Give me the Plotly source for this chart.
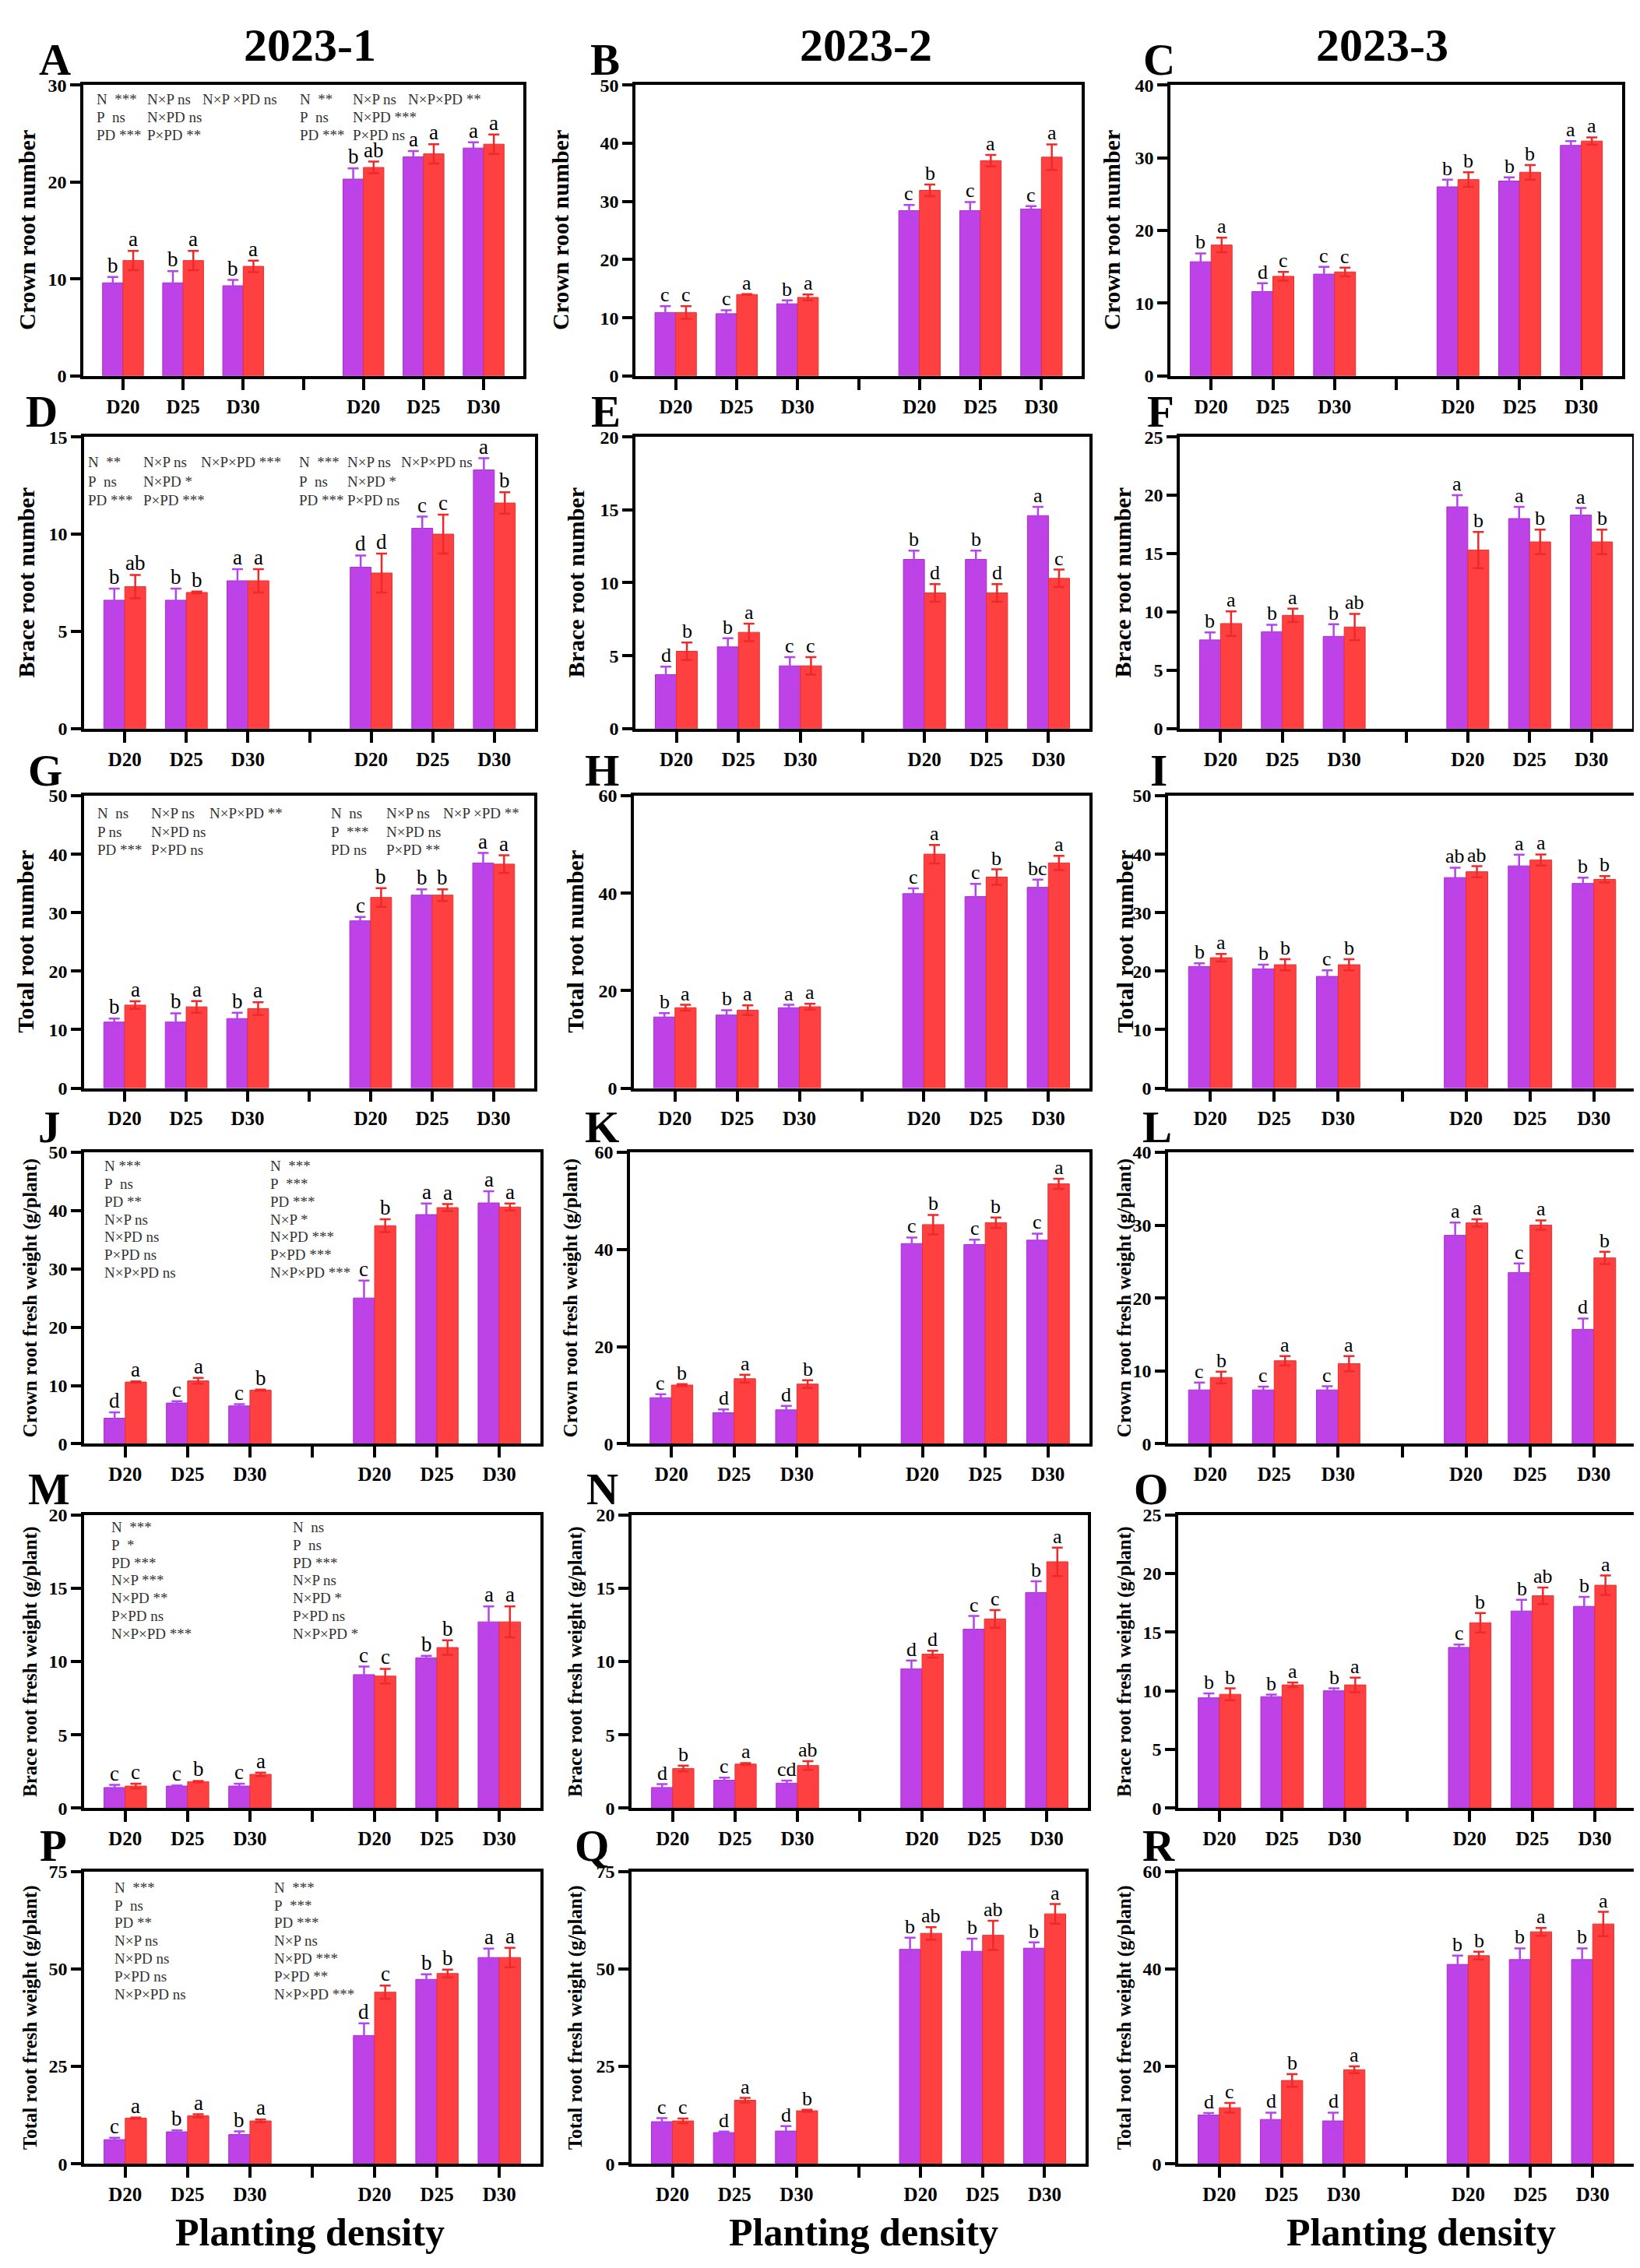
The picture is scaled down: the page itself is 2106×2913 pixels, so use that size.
import plotly.graph_objects as go
from plotly.subplots import make_subplots

W, H = 2106, 2913

years = ["2023-1", "2023-2", "2023-3"]
x_pos = [0, 1, 2, 4, 5, 6]
tick_vals = [0, 1, 2, 3, 4, 5, 6]
tick_text = ["D20", "D25", "D30", "", "D20", "D25", "D30"]

# ---- data: one list per year (2023-1, 2023-2, 2023-3) ----
# crown root number (A, B, C)
crown_num_p = [[9.6, 9.6, 9.3, 20.3, 22.6, 23.5], [10.9, 10.7, 12.4, 28.4, 28.4, 28.7], [15.7, 11.6, 14.0, 26.0, 26.8, 31.7]]
crown_num_p_err = [[0.6, 1.2, 0.6, 1.1, 0.6, 0.6], [1.1, 0.6, 0.6, 1.0, 1.5, 0.5], [1.15, 1.15, 1.0, 1.0, 0.5, 0.6]]
crown_num_r = [[11.9, 11.9, 11.3, 21.5, 22.9, 23.9], [10.9, 14.0, 13.5, 31.9, 37.0, 37.6], [18.0, 13.7, 14.3, 27.0, 28.0, 32.3]]
crown_num_r_err = [[1.0, 1.0, 0.6, 0.6, 1.0, 1.0], [1.1, 0.05, 0.5, 1.0, 1.0, 2.2], [1.0, 0.6, 0.6, 1.0, 1.0, 0.5]]
crown_num_let_p = [["b", "b", "b", "b", "a", "a"], ["c", "c", "b", "c", "c", "c"], ["b", "d", "c", "b", "b", "a"]]
crown_num_let_r = [["a", "a", "a", "ab", "a", "a"], ["c", "a", "a", "b", "a", "a"], ["a", "c", "c", "b", "b", "a"]]

# brace root number (D, E, F)
brace_num_p = [[6.6, 6.6, 7.6, 8.3, 10.3, 13.3], [3.7, 5.6, 4.3, 11.6, 11.6, 14.6], [7.6, 8.3, 7.9, 19.0, 18.0, 18.3]]
brace_num_p_err = [[0.6, 0.6, 0.6, 0.6, 0.6, 0.6], [0.55, 0.6, 0.6, 0.6, 0.6, 0.6], [0.65, 0.6, 1.05, 1.0, 1.0, 0.6]]
brace_num_r = [[7.3, 7.0, 7.6, 8.0, 10.0, 11.6], [5.3, 6.6, 4.3, 9.3, 9.3, 10.3], [9.0, 9.7, 8.7, 15.3, 16.0, 16.0]]
brace_num_r_err = [[0.6, 0.05, 0.6, 1.0, 1.0, 0.55], [0.6, 0.6, 0.6, 0.6, 0.6, 0.6], [1.05, 0.57, 1.13, 1.55, 1.05, 1.05]]
brace_num_let_p = [["b", "b", "a", "d", "c", "a"], ["d", "b", "c", "b", "b", "a"], ["b", "b", "b", "a", "a", "a"]]
brace_num_let_r = [["ab", "b", "a", "d", "c", "b"], ["b", "a", "c", "d", "d", "c"], ["a", "a", "ab", "b", "b", "b"]]

# total root number (G, H, I)
total_num_p = [[11.3, 11.3, 11.9, 28.6, 33.0, 38.5], [14.6, 15.0, 16.5, 39.9, 39.3, 41.2], [20.8, 20.4, 19.1, 36.0, 38.0, 35.0]]
total_num_p_err = [[0.6, 1.5, 1.0, 0.65, 1.0, 1.7], [0.8, 1.0, 0.6, 1.1, 2.6, 1.6], [0.55, 0.7, 1.05, 1.7, 1.9, 1.0]]
total_num_r = [[14.2, 13.9, 13.6, 32.6, 33.0, 38.3], [16.5, 16.0, 16.7, 48.0, 43.3, 46.2], [22.3, 21.1, 21.1, 37.0, 39.0, 35.7]]
total_num_r_err = [[0.65, 1.0, 1.1, 1.6, 1.0, 1.5], [0.6, 1.0, 0.6, 1.9, 1.6, 1.45], [0.65, 0.95, 0.95, 0.95, 0.95, 0.55]]
total_num_let_p = [["b", "b", "b", "c", "b", "a"], ["b", "b", "a", "c", "c", "bc"], ["b", "b", "c", "ab", "a", "b"]]
total_num_let_r = [["a", "a", "a", "b", "b", "a"], ["a", "a", "a", "a", "b", "a"], ["a", "b", "b", "ab", "a", "b"]]

# crown root fresh weight (J, K, L)
crown_fw_p = [[4.4, 7.0, 6.5, 25.0, 39.3, 41.3], [9.5, 6.4, 7.0, 41.2, 41.0, 41.9], [7.4, 7.4, 7.4, 28.6, 23.5, 15.7]]
crown_fw_p_err = [[1.0, 0.3, 0.3, 3.0, 1.9, 2.0], [0.7, 0.7, 0.8, 1.25, 1.0, 1.35], [1.0, 0.45, 0.5, 1.75, 1.25, 1.5]]
crown_fw_r = [[10.6, 10.8, 9.2, 37.4, 40.5, 40.6], [12.1, 13.4, 12.3, 45.1, 45.5, 53.5], [9.1, 11.4, 11.0, 30.3, 30.0, 25.5]]
crown_fw_r_err = [[0.1, 0.5, 0.1, 1.1, 0.6, 0.6], [0.2, 0.8, 0.8, 2.0, 1.05, 1.05], [0.8, 0.65, 1.05, 0.5, 0.65, 0.85]]
crown_fw_let_p = [["d", "c", "c", "c", "a", "a"], ["c", "d", "d", "c", "c", "c"], ["c", "c", "c", "a", "c", "d"]]
crown_fw_let_r = [["a", "a", "b", "b", "a", "a"], ["b", "a", "b", "b", "b", "a"], ["b", "a", "a", "a", "a", "b"]]

# brace root fresh weight (M, N, O)
brace_fw_p = [[1.4, 1.5, 1.5, 9.1, 10.25, 12.7], [1.4, 1.9, 1.7, 9.5, 12.2, 14.7], [9.4, 9.5, 10.0, 13.7, 16.8, 17.2]]
brace_fw_p_err = [[0.18, 0.04, 0.16, 0.55, 0.14, 1.05], [0.23, 0.17, 0.17, 0.57, 0.9, 0.77], [0.37, 0.17, 0.2, 0.25, 0.96, 0.8]]
brace_fw_r = [[1.5, 1.8, 2.3, 9.0, 10.95, 12.7], [2.7, 3.0, 2.9, 10.5, 12.9, 16.8], [9.7, 10.5, 10.5, 15.8, 18.1, 19.0]]
brace_fw_r_err = [[0.16, 0.05, 0.12, 0.5, 0.5, 1.05], [0.2, 0.07, 0.3, 0.23, 0.6, 0.97], [0.5, 0.2, 0.62, 0.83, 0.7, 0.83]]
brace_fw_let_p = [["c", "c", "c", "c", "b", "a"], ["d", "c", "cd", "d", "c", "b"], ["b", "b", "b", "c", "b", "b"]]
brace_fw_let_r = [["c", "b", "a", "c", "b", "a"], ["b", "a", "ab", "d", "c", "a"], ["b", "a", "a", "b", "ab", "a"]]

# total root fresh weight (P, Q, R)
total_fw_p = [[6.2, 8.2, 7.5, 32.9, 47.3, 52.9], [10.8, 8.0, 8.4, 55.0, 54.5, 55.3], [10.0, 9.1, 8.8, 40.9, 41.9, 41.9]]
total_fw_p_err = [[0.45, 0.35, 0.8, 3.1, 1.3, 2.3], [0.9, 0.25, 1.25, 3.0, 3.25, 1.5], [0.4, 1.4, 1.7, 1.8, 2.3, 2.3]]
total_fw_r = [[11.7, 12.3, 11.0, 44.0, 48.8, 52.9], [11.0, 16.3, 13.6, 59.1, 58.6, 64.1], [11.5, 17.1, 19.3, 42.7, 47.6, 49.2]]
total_fw_r_err = [[0.15, 0.4, 0.35, 1.7, 1.0, 2.5], [0.6, 0.6, 0.25, 1.6, 3.75, 2.5], [1.0, 1.3, 0.7, 0.8, 0.8, 2.5]]
total_fw_let_p = [["c", "b", "b", "d", "b", "a"], ["c", "d", "d", "b", "b", "b"], ["d", "d", "d", "b", "b", "b"]]
total_fw_let_r = [["a", "a", "a", "c", "b", "a"], ["c", "a", "b", "ab", "ab", "a"], ["c", "b", "a", "b", "a", "a"]]

y_titles = ["Crown root number", "Brace root number", "Total root number",
            "Crown root fresh weight (g/plant)", "Brace root fresh weight (g/plant)",
            "Total root fresh weight (g/plant)"]
y_max = [[30, 50, 40], [15, 20, 25], [50, 60, 50], [50, 60, 40], [20, 20, 25], [75, 75, 60]]
y_step = [[10, 10, 10], [5, 5, 5], [10, 20, 10], [10, 20, 10], [5, 5, 5], [25, 25, 20]]

# ANOVA text for the 2023-1 panels
stats_A = [[["N  ***", "P  ns", "PD ***"], ["N×P ns", "N×PD ns", "P×PD **"], ["N×P ×PD ns"]],
           [["N  **", "P  ns", "PD ***"], ["N×P ns", "N×PD ***", "P×PD ns"], ["N×P×PD **"]]]
stats_D = [[["N  **", "P  ns", "PD ***"], ["N×P ns", "N×PD *", "P×PD ***"], ["N×P×PD ***"]],
           [["N  ***", "P  ns", "PD ***"], ["N×P ns", "N×PD *", "P×PD ns"], ["N×P×PD ns"]]]
stats_G = [[["N  ns", "P ns", "PD ***"], ["N×P ns", "N×PD ns", "P×PD ns"], ["N×P×PD **"]],
           [["N  ns", "P  ***", "PD ns"], ["N×P ns", "N×PD ns", "P×PD **"], ["N×P ×PD **"]]]
stats_J = [["N ***", "P  ns", "PD **", "N×P ns", "N×PD ns", "P×PD ns", "N×P×PD ns"],
           ["N  ***", "P  ***", "PD ***", "N×P *", "N×PD ***", "P×PD ***", "N×P×PD ***"]]
stats_M = [["N  ***", "P  *", "PD ***", "N×P ***", "N×PD **", "P×PD ns", "N×P×PD ***"],
           ["N  ns", "P  ns", "PD ***", "N×P ns", "N×PD *", "P×PD ns", "N×P×PD *"]]
stats_P = [["N  ***", "P  ns", "PD **", "N×P ns", "N×PD ns", "P×PD ns", "N×P×PD ns"],
           ["N  ***", "P  ***", "PD ***", "N×P ns", "N×PD ***", "P×PD **", "N×P×PD ***"]]

rows = [
    (crown_num_p, crown_num_p_err, crown_num_r, crown_num_r_err, crown_num_let_p, crown_num_let_r),
    (brace_num_p, brace_num_p_err, brace_num_r, brace_num_r_err, brace_num_let_p, brace_num_let_r),
    (total_num_p, total_num_p_err, total_num_r, total_num_r_err, total_num_let_p, total_num_let_r),
    (crown_fw_p, crown_fw_p_err, crown_fw_r, crown_fw_r_err, crown_fw_let_p, crown_fw_let_r),
    (brace_fw_p, brace_fw_p_err, brace_fw_r, brace_fw_r_err, brace_fw_let_p, brace_fw_let_r),
    (total_fw_p, total_fw_p_err, total_fw_r, total_fw_r_err, total_fw_let_p, total_fw_let_r),
]

PURPLE = "#BF42E6"
RED = "#FF4040"
FONT = "Liberation Serif"

# pixel layout of the plot frames, [row][col] -> (left, right); rows -> (top, bottom)
frame_x = [[(99, 664), (808, 1381), (1495, 2075)],
           [(100, 679), (808, 1391), (1507, 2088)],
           [(100, 678), (806, 1391), (1492, 2093)],
           [(100, 686), (801, 1391), (1492, 2093)],
           [(100, 686), (803, 1389), (1505, 2093)],
           [(100, 686), (803, 1386), (1505, 2090)]]
frame_y = [(89, 466), (545, 923), (1010, 1389), (1472, 1850), (1942, 2322), (2404, 2783)]
ytitle_x = [[26, 711, 1419], [25, 731, 1433], [25, 731, 1437], [31, 725, 1436], [31, 731, 1436], [31, 731, 1436]]
letter_x = [[62, 769, 1480], [45, 770, 1482], [50, 765, 1480], [55, 765, 1478], [55, 765, 1470], [60, 752, 1480]]


def fx(p):
    return p / W


def fy(p):
    return 1 - p / H


fig = make_subplots(rows=6, cols=3)
annotations = []


def note(x, y, text, size, xref="paper", yref="paper", **kw):
    d = dict(x=x, y=y, xref=xref, yref=yref, text=text, showarrow=False,
             xanchor=kw.pop("xanchor", "center"), yanchor=kw.pop("yanchor", "middle"),
             font=dict(family=FONT, size=size, color=kw.pop("color", "black")))
    d.update(kw)
    annotations.append(d)


for r in range(6):
    p, pe, rd, re, lp, lr = rows[r]
    for c in range(3):
        k = r * 3 + c + 1
        xa = "xaxis" if k == 1 else f"xaxis{k}"
        ya = "yaxis" if k == 1 else f"yaxis{k}"
        xr = "x" if k == 1 else f"x{k}"
        yr = "y" if k == 1 else f"y{k}"

        fig.add_trace(go.Bar(x=x_pos, y=p[c], marker=dict(color=PURPLE, line=dict(color="#A530D0", width=1)),
                             error_y=dict(type="data", array=pe[c], color="#B444EE", thickness=2.5, width=7),
                             showlegend=False), row=r + 1, col=c + 1)
        fig.add_trace(go.Bar(x=x_pos, y=rd[c], marker=dict(color=RED, line=dict(color="#E83030", width=1)),
                             error_y=dict(type="data", array=re[c], color="#F02828", thickness=2.5, width=7),
                             showlegend=False), row=r + 1, col=c + 1)

        x0, x1 = frame_x[r][c]
        y0, y1 = frame_y[r]
        fig.layout[xa].update(domain=[fx(x0), fx(x1)], range=[-0.66, 6.66], tickvals=tick_vals, ticktext=tick_text,
                              showline=True, mirror=True, linecolor="black", linewidth=3.5, ticks="outside",
                              ticklen=14, tickwidth=3.5, tickcolor="black", showgrid=False, zeroline=False,
                              tickfont=dict(family=FONT, size=25, color="black", weight="bold"))
        fig.layout[ya].update(domain=[fy(y1), fy(y0)], range=[0, y_max[r][c]], dtick=y_step[r][c], tick0=0,
                              showline=True, mirror=True, linecolor="black", linewidth=3.5, ticks="outside",
                              ticklen=13, tickwidth=3.5, tickcolor="black", showgrid=False, zeroline=False,
                              tickfont=dict(family=FONT, size=24, color="black", weight="bold"))

        let_size = 27 if c == 0 else 26
        for i, xv in enumerate(x_pos):
            note(xv - 0.17, p[c][i] + pe[c][i], lp[c][i], let_size, xref=xr, yref=yr, yanchor="bottom", yshift=-2)
            note(xv + 0.17, rd[c][i] + re[c][i], lr[c][i], let_size, xref=xr, yref=yr, yanchor="bottom", yshift=-2)

        # y title
        note(fx(ytitle_x[r][c]), fy((y0 + y1) / 2), "<b>" + y_titles[r] + "</b>", 30 if r < 3 else 25,
             textangle=-90)
        # panel letter
        note(fx(letter_x[r][c]), fy(y0 - 33), "<b>" + "ABCDEFGHIJKLMNOPQR"[k - 1] + "</b>", 57)

# column titles and x titles
title_x = [390, 1104, 1767]
xtitle_x = [390, 1101, 1817]
for c in range(3):
    note(fx(title_x[c]), fy(37), "<b>" + years[c] + "</b>", 60)
    note(fx(xtitle_x[c]), fy(2872), "<b>Planting density</b>", 50)

STAT_COLOR = "#333333"


def add_stat_columns(blocks, xs, y_first, step):
    for block, bx in zip(blocks, xs):
        for col_lines, cx in zip(block, bx):
            for j, line in enumerate(col_lines):
                note(fx(cx), fy(y_first + j * step), line.replace("  ", "\u00a0 "), 19,
                     xanchor="left", color=STAT_COLOR)


add_stat_columns(stats_A, [[114, 179, 250], [375, 443, 514]], 107, 23.5)
add_stat_columns(stats_D, [[103, 174, 248], [374, 436, 505]], 578, 24.5)
add_stat_columns(stats_G, [[115, 184, 259], [415, 486, 559]], 1033, 23.5)


def add_stat_list(blocks, xs, y_first, step):
    for lines, bx in zip(blocks, xs):
        for j, line in enumerate(lines):
            note(fx(bx), fy(y_first + j * step), line.replace("  ", "\u00a0 "), 19,
                 xanchor="left", color=STAT_COLOR)


add_stat_list(stats_J, [124, 337], 1490, 23)
add_stat_list(stats_M, [133, 366], 1958, 23)
add_stat_list(stats_P, [137, 342], 2425, 23)

fig.update_layout(width=W, height=H, autosize=False, margin=dict(l=0, r=0, t=0, b=0),
                  barmode="group", bargap=0.32, bargroupgap=0,
                  plot_bgcolor="white", paper_bgcolor="white", annotations=annotations)

fig.write_html("out.html")
